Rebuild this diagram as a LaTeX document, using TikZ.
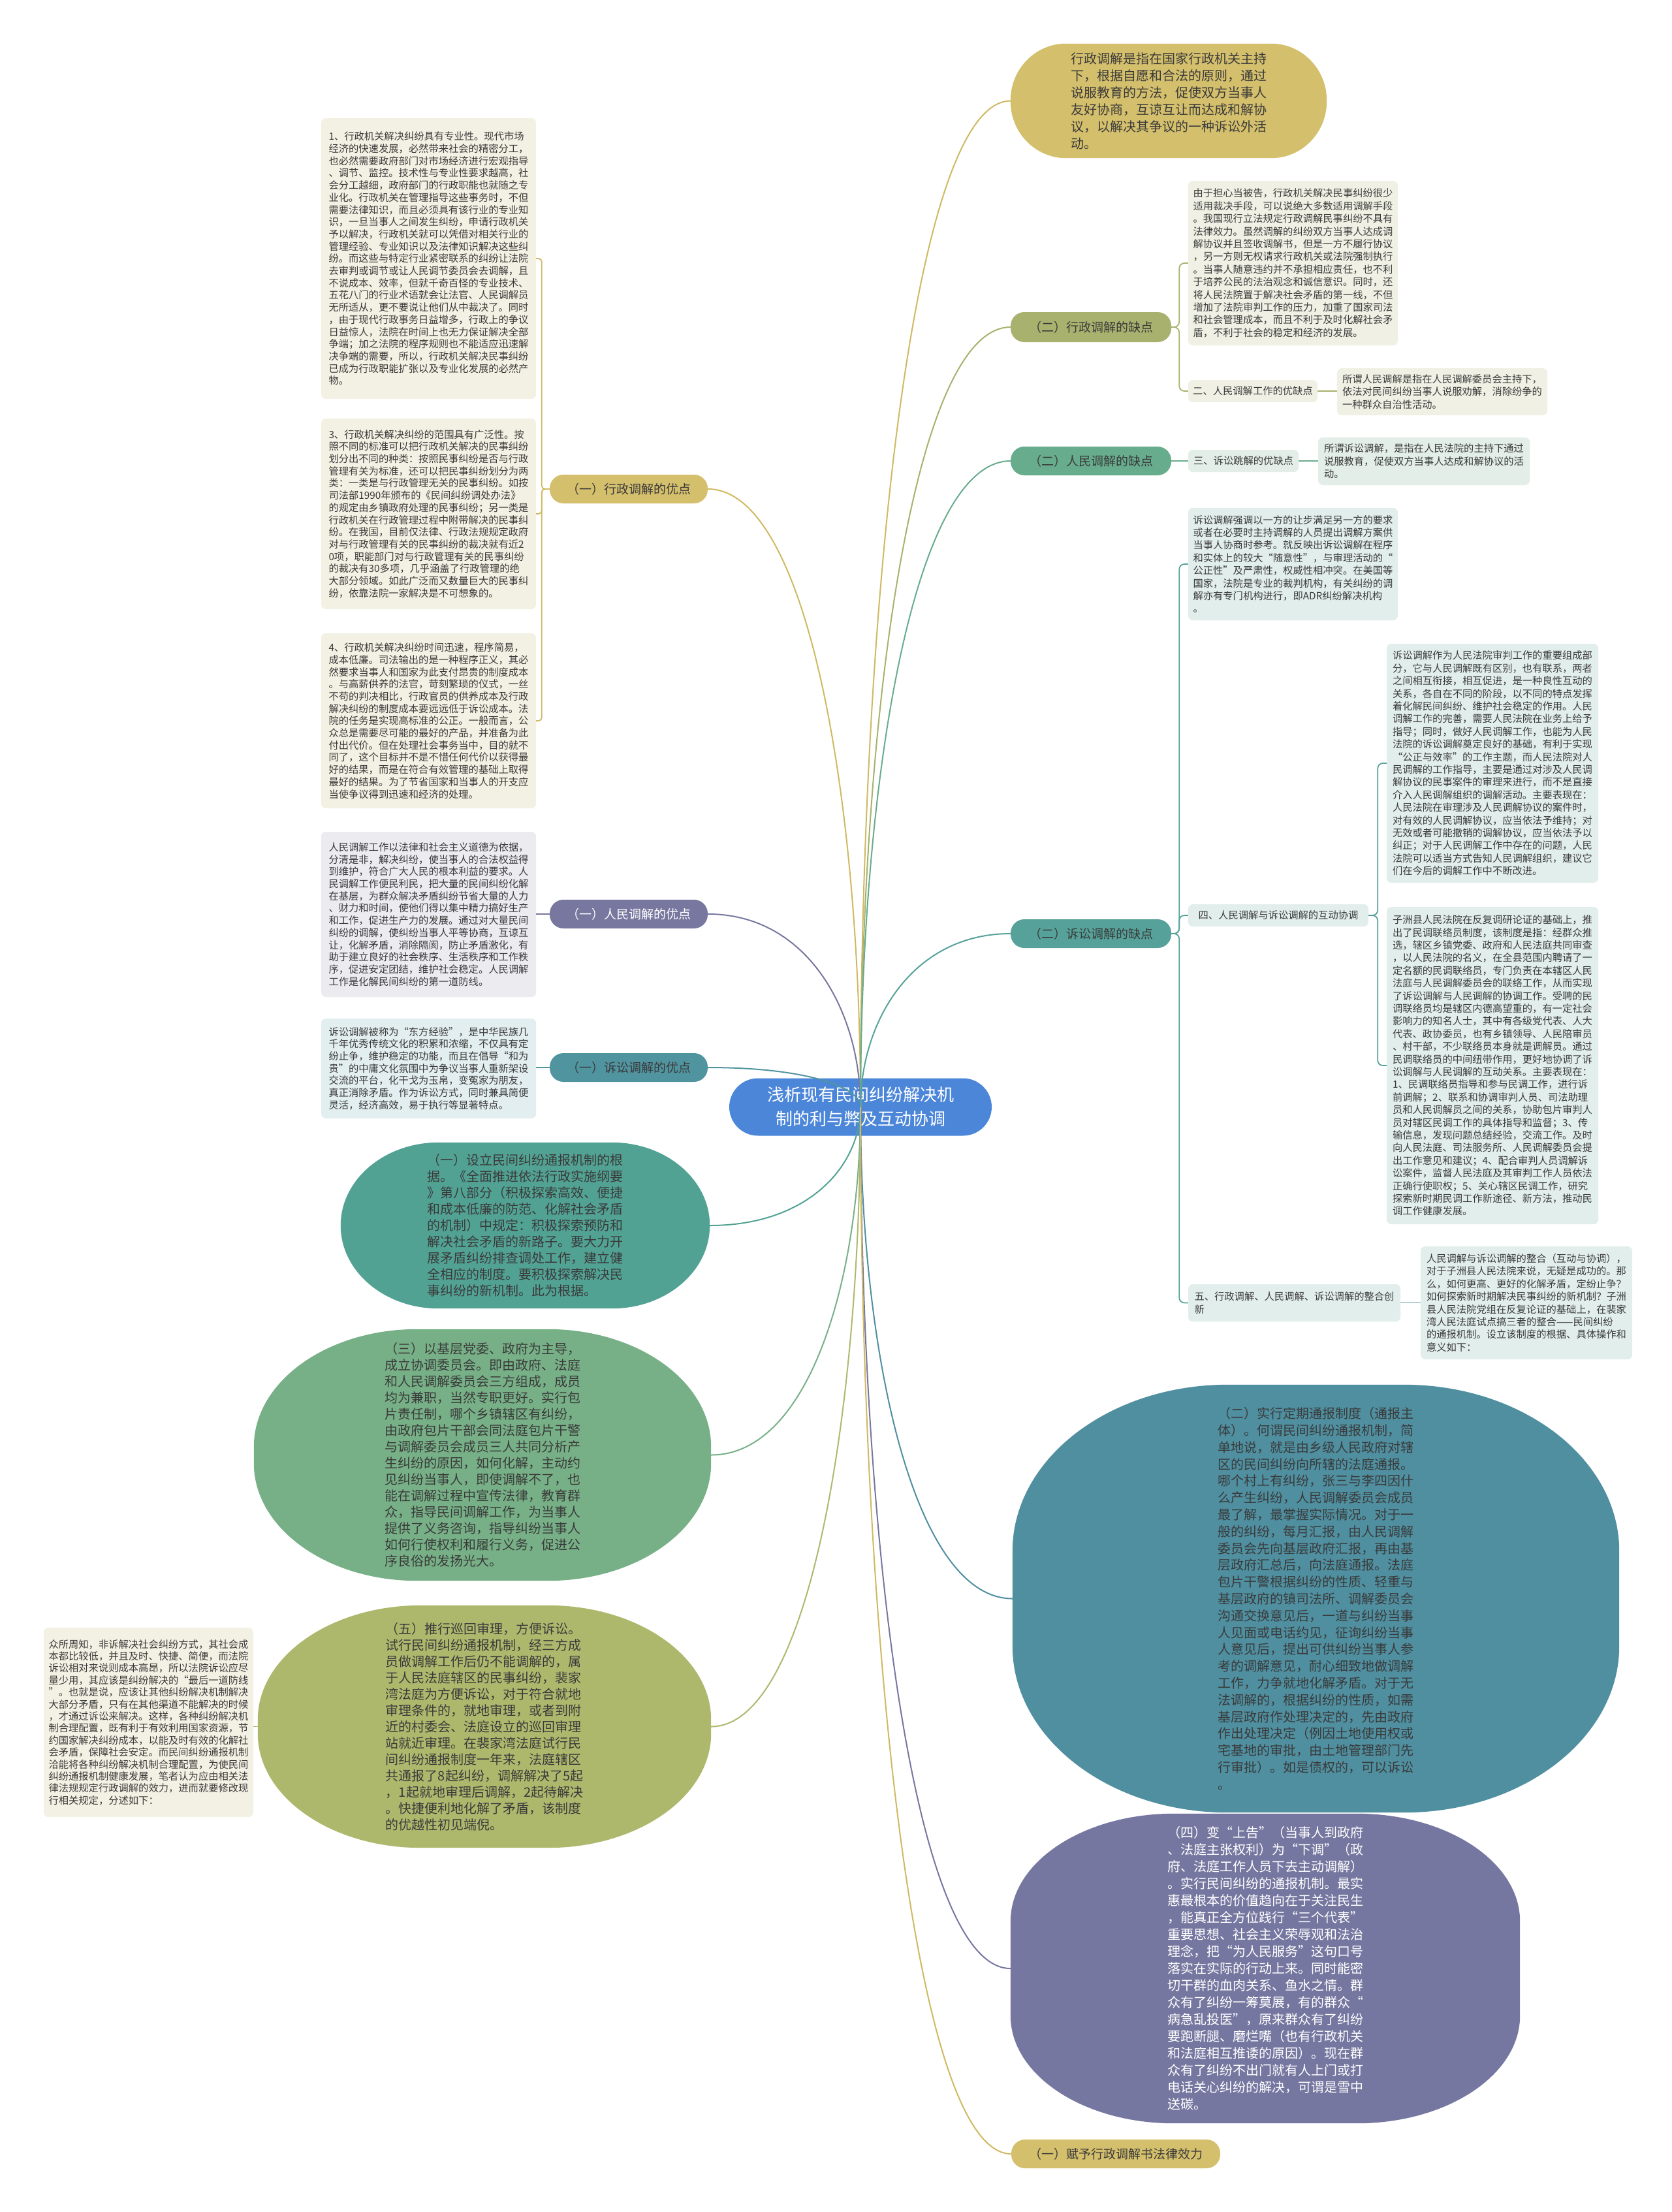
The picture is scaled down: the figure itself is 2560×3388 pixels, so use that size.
\documentclass[tikz,border=0pt]{standalone}
\usepackage{fontspec}
\setmainfont{Noto Sans CJK SC}
\usetikzlibrary{calc}
\pgfdeclarelayer{bg}
\pgfsetlayers{bg,main}
\definecolor{cRoot}{HTML}{4C86D9}
\definecolor{cGold}{HTML}{D4BF6C}
\definecolor{cGoldL}{HTML}{CFB962}
\definecolor{cOlive}{HTML}{A8B16D}
\definecolor{cGreen}{HTML}{67AC8D}
\definecolor{cTeal}{HTML}{56A29A}
\definecolor{cTealB}{HTML}{5094A0}
\definecolor{cPurp}{HTML}{77779F}
\definecolor{cK}{HTML}{52A294}
\definecolor{cL}{HTML}{77B087}
\definecolor{cM}{HTML}{AEB86D}
\definecolor{cBT}{HTML}{4F8FA0}
\definecolor{cPU}{HTML}{7677A0}
\definecolor{bGold}{HTML}{F3F1E3}
\definecolor{bOlive}{HTML}{F0F1E4}
\definecolor{bGreen}{HTML}{E3EEE8}
\definecolor{bTeal}{HTML}{E2EEEC}
\definecolor{bPurp}{HTML}{EBEBF0}
\definecolor{bTealB}{HTML}{E3EEF0}
\definecolor{txtc}{HTML}{3A3A3A}
\newcommand\blobfill[4]{\begin{pgfonlayer}{bg}\fill[#4] ($(#1.north west)+(#2,0)$) -- ($(#1.north east)+(-#2,0)$) arc[start angle=90,end angle=0,x radius=#2,y radius=#3] -- ($(#1.south east)+(0,#3)$) arc[start angle=0,end angle=-90,x radius=#2,y radius=#3] -- ($(#1.south west)+(#2,0)$) arc[start angle=270,end angle=180,x radius=#2,y radius=#3] -- ($(#1.north west)+(0,-#3)$) arc[start angle=180,end angle=90,x radius=#2,y radius=#3] -- cycle;\end{pgfonlayer}}
\newcommand\rlink[2]{\draw[link,#1] let \p1=(root.center), \p2=(#2) in (\p1) .. controls (\x1,{0.5*(\y1+\y2)}) and ({\x1+0.35*(\x2-\x1)},\y2) .. (\p2);}
\tikzset{
 txtl/.style={align=left, text=txtc, inner sep=0pt, rounded corners=7pt, fill=#1, font=\fontsize{15.3}{18.7}\selectfont},
 txtr/.style={align=left, text=txtc, inner sep=0pt, rounded corners=7pt, fill=#1, font=\fontsize{15.3}{19.4}\selectfont},
 pill/.style={rounded corners=21pt, fill=#1, text=txtc, inner sep=0pt, font=\fontsize{19}{23}\selectfont, minimum height=44pt},
 blobt/.style={align=left, text=txtc, inner sep=0pt, font=\fontsize{20}{25}\selectfont},
 link/.style={line width=2pt},
 brk/.style={line width=1.8pt},
}
\begin{document}
\begin{tikzpicture}[x=1pt,y=1pt]
\useasboundingbox (0,0) rectangle (2560,-3388);
\begin{pgfonlayer}{bg}
\fill[white] (0,0) rectangle (2560,-3388);
\end{pgfonlayer}

% root
\node[fill=cRoot, rounded corners=44pt, text=white, align=center, inner sep=0pt, minimum width=402pt, minimum height=88pt, font=\fontsize{26}{37}\selectfont] (root) at (1318,-1695.5) {浅析现有民间纠纷解决机\\制的利与弊及互动协调};

% left pills
\node[pill=cGold, minimum width=242pt] (p1) at (963,-749) {（一）行政调解的优点};
\node[pill=cPurp, minimum width=242pt, text=white] (p2) at (963,-1400) {（一）人民调解的优点};
\node[pill=cTealB, minimum width=242pt] (p3) at (963,-1635) {（一）诉讼调解的优点};

% left text blocks
\node[txtl=bGold, minimum width=329pt, minimum height=430pt] (A) at (656.5,-396) {1、行政机关解决纠纷具有专业性。现代市场\\经济的快速发展，必然带来社会的精密分工，\\也必然需要政府部门对市场经济进行宏观指导\\、调节、监控。技术性与专业性要求越高，社\\会分工越细，政府部门的行政职能也就随之专\\业化。行政机关在管理指导这些事务时，不但\\需要法律知识，而且必须具有该行业的专业知\\识，一旦当事人之间发生纠纷，申请行政机关\\予以解决，行政机关就可以凭借对相关行业的\\管理经验、专业知识以及法律知识解决这些纠\\纷。而这些与特定行业紧密联系的纠纷让法院\\去审判或调节或让人民调节委员会去调解，且\\不说成本、效率，但就千奇百怪的专业技术、\\五花八门的行业术语就会让法官、人民调解员\\无所适从，更不要说让他们从中裁决了。同时\\，由于现代行政事务日益增多，行政上的争议\\日益惊人，法院在时间上也无力保证解决全部\\争端；加之法院的程序规则也不能适应迅速解\\决争端的需要，所以，行政机关解决民事纠纷\\已成为行政职能扩张以及专业化发展的必然产\\物。};
\node[txtl=bGold, minimum width=329pt, minimum height=292pt] (B) at (656.5,-787) {3、行政机关解决纠纷的范围具有广泛性。按\\照不同的标准可以把行政机关解决的民事纠纷\\划分出不同的种类：按照民事纠纷是否与行政\\管理有关为标准，还可以把民事纠纷划分为两\\类：一类是与行政管理无关的民事纠纷。如按\\司法部1990年颁布的《民间纠纷调处办法》\\的规定由乡镇政府处理的民事纠纷；另一类是\\行政机关在行政管理过程中附带解决的民事纠\\纷。在我国，目前仅法律、行政法规规定政府\\对与行政管理有关的民事纠纷的裁决就有近2\\0项，职能部门对与行政管理有关的民事纠纷\\的裁决有30多项，几乎涵盖了行政管理的绝\\大部分领域。如此广泛而又数量巨大的民事纠\\纷，依靠法院一家解决是不可想象的。};
\node[txtl=bGold, minimum width=329pt, minimum height=268pt] (C) at (656.5,-1104) {4、行政机关解决纠纷时间迅速，程序简易，\\成本低廉。司法输出的是一种程序正义，其必\\然要求当事人和国家为此支付昂贵的制度成本\\。与高薪供养的法官，苛刻繁琐的仪式，一丝\\不苟的判决相比，行政官员的供养成本及行政\\解决纠纷的制度成本要远远低于诉讼成本。法\\院的任务是实现高标准的公正。一般而言，公\\众总是需要尽可能的最好的产品，并准备为此\\付出代价。但在处理社会事务当中，目的就不\\同了，这个目标并不是不惜任何代价以获得最\\好的结果，而是在符合有效管理的基础上取得\\最好的结果。为了节省国家和当事人的开支应\\当使争议得到迅速和经济的处理。};
\node[txtl=bPurp, minimum width=329pt, minimum height=253pt] (D) at (656.5,-1400.5) {人民调解工作以法律和社会主义道德为依据，\\分清是非，解决纠纷，使当事人的合法权益得\\到维护，符合广大人民的根本利益的要求。人\\民调解工作便民利民，把大量的民间纠纷化解\\在基层，为群众解决矛盾纠纷节省大量的人力\\、财力和时间，使他们得以集中精力搞好生产\\和工作，促进生产力的发展。通过对大量民间\\纠纷的调解，使纠纷当事人平等协商，互谅互\\让，化解矛盾，消除隔阂，防止矛盾激化，有\\助于建立良好的社会秩序、生活秩序和工作秩\\序，促进安定团结，维护社会稳定。人民调解\\工作是化解民间纠纷的第一道防线。};
\node[txtl=bTealB, minimum width=329pt, minimum height=153pt] (E) at (656.5,-1636.5) {诉讼调解被称为“东方经验”，是中华民族几\\千年优秀传统文化的积累和浓缩，不仅具有定\\纷止争，维护稳定的功能，而且在倡导“和为\\贵”的中庸文化氛围中为争议当事人重新架设\\交流的平台，化干戈为玉帛，变冤家为朋友，\\真正消除矛盾。作为诉讼方式，同时兼具简便\\灵活，经济高效，易于执行等显著特点。};

% left blobs
\node[blobt, minimum width=565pt, minimum height=254pt] (K) at (804.5,-1877) {（一）设立民间纠纷通报机制的根\\据。《全面推进依法行政实施纲要\\》第八部分（积极探索高效、便捷\\和成本低廉的防范、化解社会矛盾\\的机制）中规定：积极探索预防和\\解决社会矛盾的新路子。要大力开\\展矛盾纠纷排查调处工作，建立健\\全相应的制度。要积极探索解决民\\事纠纷的新机制。此为根据。};
\blobfill{K}{150}{127}{cK}
\node[blobt, minimum width=700pt, minimum height=385pt] (L) at (739,-2228.5) {（三）以基层党委、政府为主导，\\成立协调委员会。即由政府、法庭\\和人民调解委员会三方组成，成员\\均为兼职，当然专职更好。实行包\\片责任制，哪个乡镇辖区有纠纷，\\由政府包片干部会同法庭包片干警\\与调解委员会成员三人共同分析产\\生纠纷的原因，如何化解，主动约\\见纠纷当事人，即使调解不了，也\\能在调解过程中宣传法律，教育群\\众，指导民间调解工作，为当事人\\提供了义务咨询，指导纠纷当事人\\如何行使权利和履行义务，促进公\\序良俗的发扬光大。};
\blobfill{L}{250}{180}{cL}
\node[blobt, minimum width=694pt, minimum height=371pt] (M) at (742,-2644.5) {（五）推行巡回审理，方便诉讼。\\试行民间纠纷通报机制，经三方成\\员做调解工作后仍不能调解的，属\\于人民法庭辖区的民事纠纷，裴家\\湾法庭为方便诉讼，对于符合就地\\审理条件的，就地审理，或者到附\\近的村委会、法庭设立的巡回审理\\站就近审理。在裴家湾法庭试行民\\间纠纷通报制度一年来，法庭辖区\\共通报了8起纠纷，调解解决了5起\\，1起就地审理后调解，2起待解决\\。快捷便利地化解了矛盾，该制度\\的优越性初见端倪。};
\blobfill{M}{250}{175}{cM}
\node[align=left, text=txtc, inner sep=0pt, rounded corners=7pt, fill=bGold, font=\fontsize{15.3}{18.4}\selectfont, minimum width=321pt, minimum height=290pt] (N) at (227.5,-2638) {众所周知，非诉解决社会纠纷方式，其社会成\\本都比较低，并且及时、快捷、简便，而法院\\诉讼相对来说则成本高昂，所以法院诉讼应尽\\量少用，其应该是纠纷解决的“最后一道防线\\”。也就是说，应该让其他纠纷解决机制解决\\大部分矛盾，只有在其他渠道不能解决的时候\\，才通过诉讼来解决。这样，各种纠纷解决机\\制合理配置，既有利于有效利用国家资源，节\\约国家解决纠纷成本，以能及时有效的化解社\\会矛盾，保障社会安定。而民间纠纷通报机制\\洽能将各种纠纷解决机制合理配置，为使民间\\纠纷通报机制健康发展，笔者认为应由相关法\\律法规规定行政调解的效力，进而就要修改现\\行相关规定，分述如下：};

% right side
\node[align=left, text=txtc, inner sep=0pt, font=\fontsize{20}{26}\selectfont, minimum width=484pt, minimum height=175pt] (T) at (1790,-154.5) {行政调解是指在国家行政机关主持\\下，根据自愿和合法的原则，通过\\说服教育的方法，促使双方当事人\\友好协商，互谅互让而达成和解协\\议，以解决其争议的一种诉讼外活\\动。};
\blobfill{T}{85}{87}{cGold}

\node[pill=cOlive, minimum width=246pt, minimum height=46pt] (p4) at (1671,-501) {（二）行政调解的缺点};
\node[txtr=bOlive, minimum width=321pt, minimum height=252pt] (F) at (1980.5,-403) {由于担心当被告，行政机关解决民事纠纷很少\\适用裁决手段，可以说绝大多数适用调解手段\\。我国现行立法规定行政调解民事纠纷不具有\\法律效力。虽然调解的纠纷双方当事人达成调\\解协议并且签收调解书，但是一方不履行协议\\，另一方则无权请求行政机关或法院强制执行\\。当事人随意违约并不承担相应责任，也不利\\于培养公民的法治观念和诚信意识。同时，还\\将人民法院置于解决社会矛盾的第一线，不但\\增加了法院审判工作的压力，加重了国家司法\\和社会管理成本，而且不利于及时化解社会矛\\盾，不利于社会的稳定和经济的发展。};
\node[txtr=bOlive, minimum width=198pt, minimum height=34pt] (l2) at (1919,-599) {二、人民调解工作的优缺点};
\node[txtr=bOlive, minimum width=322pt, minimum height=72pt] (R2) at (2209,-600) {所谓人民调解是指在人民调解委员会主持下，\\依法对民间纠纷当事人说服劝解，消除纷争的\\一种群众自治性活动。};

\node[pill=cGreen, minimum width=246pt] (p5) at (1671,-706) {（二）人民调解的缺点};
\node[txtr=bGreen, minimum width=169pt, minimum height=34pt] (l3) at (1904.5,-706) {三、诉讼跳解的优缺点};
\node[txtr=bGreen, minimum width=324pt, minimum height=73pt] (R3) at (2181,-706.5) {所谓诉讼调解，是指在人民法院的主持下通过\\说服教育，促使双方当事人达成和解协议的活\\动。};

\node[pill=cTeal, minimum width=246pt] (p6) at (1671,-1430) {（二）诉讼调解的缺点};
\node[txtr=bTeal, minimum width=321pt, minimum height=172pt] (G) at (1980.5,-864) {诉讼调解强调以一方的让步满足另一方的要求\\或者在必要时主持调解的人员提出调解方案供\\当事人协商时参考。就反映出诉讼调解在程序\\和实体上的较大“随意性”，与审理活动的“\\公正性”及严肃性，权威性相冲突。在美国等\\国家，法院是专业的裁判机构，有关纠纷的调\\解亦有专门机构进行，即ADR纠纷解决机构\\。};
\node[txtr=bTeal, minimum width=276pt, minimum height=34pt] (l4) at (1958,-1402) {四、人民调解与诉讼调解的互动协调};
\node[txtr=bTeal, minimum width=324pt, minimum height=366pt] (H) at (2286,-1169) {诉讼调解作为人民法院审判工作的重要组成部\\分，它与人民调解既有区别，也有联系，两者\\之间相互衔接，相互促进，是一种良性互动的\\关系，各自在不同的阶段，以不同的特点发挥\\着化解民间纠纷、维护社会稳定的作用。人民\\调解工作的完善，需要人民法院在业务上给予\\指导；同时，做好人民调解工作，也能为人民\\法院的诉讼调解奠定良好的基础，有利于实现\\“公正与效率”的工作主题，而人民法院对人\\民调解的工作指导，主要是通过对涉及人民调\\解协议的民事案件的审理来进行，而不是直接\\介入人民调解组织的调解活动。主要表现在：\\人民法院在审理涉及人民调解协议的案件时，\\对有效的人民调解协议，应当依法予维持；对\\无效或者可能撤销的调解协议，应当依法予以\\纠正；对于人民调解工作中存在的问题，人民\\法院可以适当方式告知人民调解组织，建议它\\们在今后的调解工作中不断改进。};
\node[txtr=bTeal, minimum width=324pt, minimum height=486pt] (I) at (2286,-1632) {子洲县人民法院在反复调研论证的基础上，推\\出了民调联络员制度，该制度是指：经群众推\\选，辖区乡镇党委、政府和人民法庭共同审查\\，以人民法院的名义，在全县范围内聘请了一\\定名额的民调联络员，专门负责在本辖区人民\\法庭与人民调解委员会的联络工作，从而实现\\了诉讼调解与人民调解的协调工作。受聘的民\\调联络员均是辖区内德高望重的，有一定社会\\影响力的知名人士，其中有各级党代表、人大\\代表、政协委员，也有乡镇领导、人民陪审员\\、村干部，不少联络员本身就是调解员。通过\\民调联络员的中间纽带作用，更好地协调了诉\\讼调解与人民调解的互动关系。主要表现在：\\1、民调联络员指导和参与民调工作，进行诉\\前调解；2、联系和协调审判人员、司法助理\\员和人民调解员之间的关系，协助包片审判人\\员对辖区民调工作的具体指导和监督；3、传\\输信息，发现问题总结经验，交流工作。及时\\向人民法庭、司法服务所、人民调解委员会提\\出工作意见和建议；4、配合审判人员调解诉\\讼案件，监督人民法庭及其审判工作人员依法\\正确行使职权；5、关心辖区民调工作，研究\\探索新时期民调工作新途径、新方法，推动民\\调工作健康发展。};
\node[txtr=bTeal, minimum width=325pt, minimum height=57pt] (l5) at (1982.5,-1995.5) {五、行政调解、人民调解、诉讼调解的整合创\\新};
\node[txtr=bTeal, minimum width=324pt, minimum height=173pt] (J) at (2338,-1995.5) {人民调解与诉讼调解的整合（互动与协调），\\对于子洲县人民法院来说，无疑是成功的。那\\么，如何更高、更好的化解矛盾，定纷止争？\\如何探索新时期解决民事纠纷的新机制？子洲\\县人民法院党组在反复论证的基础上，在裴家\\湾人民法庭试点搞三者的整合——民间纠纷\\的通报机制。设立该制度的根据、具体操作和\\意义如下：};

\node[blobt, font=\fontsize{20}{25.8}\selectfont, minimum width=929pt, minimum height=655pt] (BT) at (2015.5,-2448.5) {（二）实行定期通报制度（通报主\\体）。何谓民间纠纷通报机制，简\\单地说，就是由乡级人民政府对辖\\区的民间纠纷向所辖的法庭通报。\\哪个村上有纠纷，张三与李四因什\\么产生纠纷，人民调解委员会成员\\最了解，最掌握实际情况。对于一\\般的纠纷，每月汇报，由人民调解\\委员会先向基层政府汇报，再由基\\层政府汇总后，向法庭通报。法庭\\包片干警根据纠纷的性质、轻重与\\基层政府的镇司法所、调解委员会\\沟通交换意见后，一道与纠纷当事\\人见面或电话约见，征询纠纷当事\\人意见后，提出可供纠纷当事人参\\考的调解意见，耐心细致地做调解\\工作，力争就地化解矛盾。对于无\\法调解的，根据纠纷的性质，如需\\基层政府作处理决定的，先由政府\\作出处理决定（例因土地使用权或\\宅基地的审批，由土地管理部门先\\行审批）。如是债权的，可以诉讼\\。};
\blobfill{BT}{330}{255}{cBT}
\node[blobt, text=white, font=\fontsize{20}{26}\selectfont, minimum width=780pt, minimum height=474pt] (PU) at (1938,-3015) {（四）变“上告”（当事人到政府\\、法庭主张权利）为“下调”（政\\府、法庭工作人员下去主动调解）\\。实行民间纠纷的通报机制。最实\\惠最根本的价值趋向在于关注民生\\，能真正全方位践行“三个代表”\\重要思想、社会主义荣辱观和法治\\理念，把“为人民服务”这句口号\\落实在实际的行动上来。同时能密\\切干群的血肉关系、鱼水之情。群\\众有了纠纷一筹莫展，有的群众“\\病急乱投医”，原来群众有了纠纷\\要跑断腿、磨烂嘴（也有行政机关\\和法庭相互推诿的原因）。现在群\\众有了纠纷不出门就有人上门或打\\电话关心纠纷的解决，可谓是雪中\\送碳。};
\blobfill{PU}{250}{165}{cPU}
\node[pill=cGold, minimum width=320pt] (p7) at (1709,-3299) {（一）赋予行政调解书法律效力};

% brackets and straight links
\draw[brk, cGoldL, rounded corners=5pt] (p1.west) -- ++(-12,0) |- (A.east);
\draw[brk, cGoldL, rounded corners=5pt] (p1.west) -- ++(-12,0) |- (B.east);
\draw[brk, cGoldL, rounded corners=5pt] (p1.west) -- ++(-12,0) |- (C.east);
\draw[brk, cPurp] (p2.west) -- (p2.west -| D.east);
\draw[brk, cTealB] (p3.west) -- (p3.west -| E.east);
\draw[brk, cM] (M.west) -- (M.west -| N.east);
\draw[brk, cOlive, rounded corners=8pt] (p4.east) -- ++(12,0) |- (F.west);
\draw[brk, cOlive, rounded corners=8pt] (p4.east) -- ++(12,0) |- (l2.west);
\draw[brk, cOlive] (l2.east) -- (l2.east -| R2.west);
\draw[brk, cGreen] (p5.east) -- (p5.east -| l3.west);
\draw[brk, cGreen] (l3.east) -- (l3.east -| R3.west);
\draw[brk, cTeal, rounded corners=8pt] (p6.east) -- ++(12,0) |- (G.west);
\draw[brk, cTeal, rounded corners=8pt] (p6.east) -- ++(12,0) |- (l4.west);
\draw[brk, cTeal, rounded corners=8pt] (p6.east) -- ++(12,0) |- (l5.west);
\draw[brk, cTeal, rounded corners=8pt] (l4.east) -- ++(14,0) |- (H.west);
\draw[brk, cTeal, rounded corners=8pt] (l4.east) -- ++(14,0) |- (I.west);
\draw[brk, cTeal] (l5.east) -- (l5.east -| J.west);

% root links
\rlink{cGoldL}{p1.east}
\rlink{cPurp}{p2.east}
\rlink{cTealB}{p3.east}
\rlink{cK}{K.east}
\rlink{cL}{L.east}
\rlink{cM}{M.east}
\rlink{cGoldL}{T.west}
\rlink{cOlive}{p4.west}
\rlink{cGreen}{p5.west}
\rlink{cTeal}{p6.west}
\rlink{cBT}{BT.west}
\rlink{cPU}{PU.west}
\rlink{cGoldL}{p7.west}
\end{tikzpicture}
\end{document}
